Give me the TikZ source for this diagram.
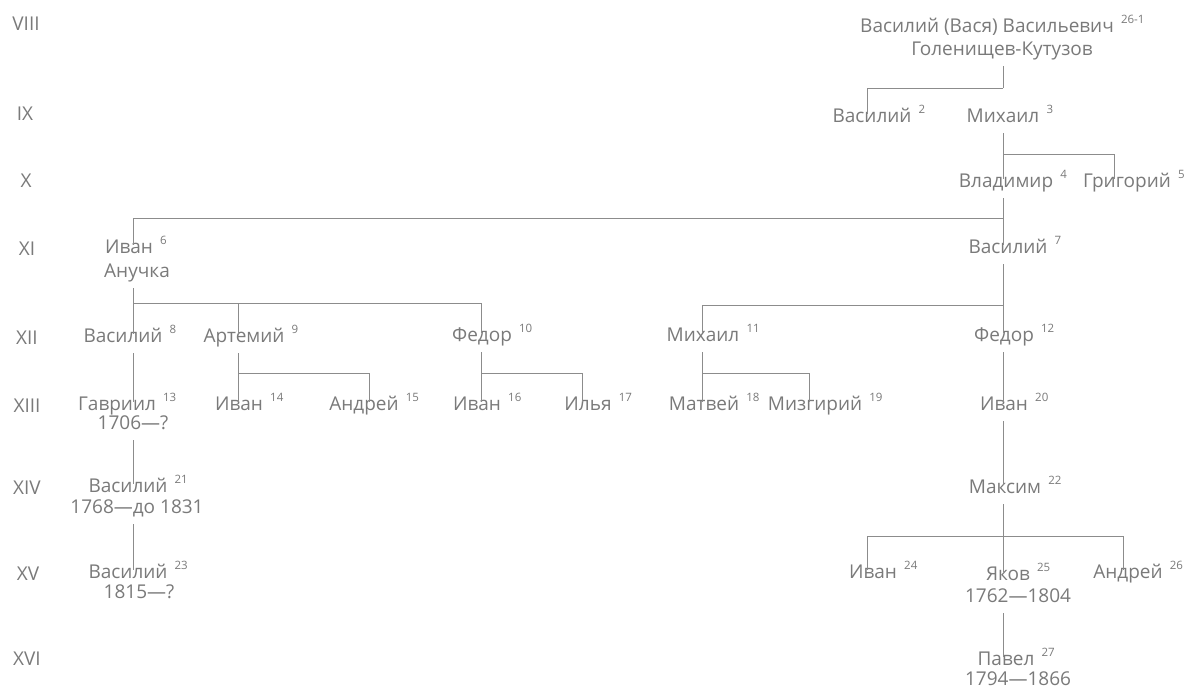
\documentclass[tikz,border=0pt]{standalone}
\usepackage{fontspec}
\setmainfont{Open Sans}
\definecolor{txt}{HTML}{7A7A7A}
\definecolor{ln}{HTML}{8C8C8C}
\newcommand\sn[1]{\rlap{\hspace{0.38em}\raisebox{0.48em}{\fontsize{11.5}{11.5}\selectfont #1}}}
\begin{document}
\begin{tikzpicture}[x=1pt,y=-1pt,
  person/.style={text=txt, font=\fontsize{19}{21}\selectfont, inner sep=0pt, anchor=base, yshift=-5.2pt, text height=0.75em, text depth=0.22em},
  gen/.style={person, yshift=-2pt},
  link/.style={draw=ln, line width=0.8pt},
  tout/.style={shorten <=8.5pt},
  tin/.style={shorten >=0.5pt}]
\fill[white] (0,0) rectangle (1188,688);
\useasboundingbox (0,0) rectangle (1188,688);
% generations
\node[gen] (g8) at (26,23) {VIII};
\node[gen] (g9) at (25,113) {IX};
\node[gen] (g10) at (26,180) {X};
\node[gen] (g11) at (27,248) {XI};
\node[gen] (g12) at (27,337) {XII};
\node[gen] (g13) at (27,405) {XIII};
\node[gen] (g14) at (27,487) {XIV};
\node[gen] (g15) at (28,573) {XV};
\node[gen] (g16) at (27,658) {XVI};
% persons
\node[person] (root1) at (987,27) {Василий (Вася) Васильевич\sn{26-1}};
\node[person] (root2) at (1002,50) {Голенищев-Кутузов};
\node[person] (p2) at (872,117) {Василий\sn{2}};
\node[person] (p3) at (1003,117) {Михаил\sn{3}};
\node[person] (p4) at (1006,182) {Владимир\sn{4}};
\node[person] (p5) at (1127,182) {Григорий\sn{5}};
\node[person] (p6) at (129,248) {Иван\sn{6}};
\node[person] (p6b) at (137,272) {Анучка};
\node[person] (p7) at (1008,248) {Василий\sn{7}};
\node[person] (p8) at (123,337) {Василий\sn{8}};
\node[person] (p9) at (244,337) {Артемий\sn{9}};
\node[person] (p10) at (482,336) {Федор\sn{10}};
\node[person] (p11) at (703,336) {Михаил\sn{11}};
\node[person] (p12) at (1004,336) {Федор\sn{12}};
\node[person] (p13) at (117,405) {Гавриил\sn{13}};
\node[person] (p13d) at (133,424) {1706—?};
\node[person] (p14) at (239,405) {Иван\sn{14}};
\node[person] (p15) at (364,405) {Андрей\sn{15}};
\node[person] (p16) at (477,405) {Иван\sn{16}};
\node[person] (p17) at (588,405) {Илья\sn{17}};
\node[person] (p18) at (704,405) {Матвей\sn{18}};
\node[person] (p19) at (815,405) {Мизгирий\sn{19}};
\node[person] (p20) at (1004,405) {Иван\sn{20}};
\node[person] (p21) at (128,487) {Василий\sn{21}};
\node[person] (p21d) at (137,508) {1768—до 1831};
\node[person] (p22) at (1005,488) {Максим\sn{22}};
\node[person] (p23) at (128,573) {Василий\sn{23}};
\node[person] (p23d) at (139,593) {1815—?};
\node[person] (p24) at (873,573) {Иван\sn{24}};
\node[person] (p25) at (1008,575) {Яков\sn{25}};
\node[person] (p25d) at (1018,597) {1762—1804};
\node[person] (p26) at (1128,573) {Андрей\sn{26}};
\node[person] (p27) at (1006,660) {Павел\sn{27}};
\node[person] (p27d) at (1018,680) {1794—1866};
% bar coordinates
\coordinate (b1L) at (867,88);  \coordinate (b1R) at (1003,88);
\coordinate (b2L) at (1003,154); \coordinate (b2R) at (1114,154);
\coordinate (b3L) at (133,218);  \coordinate (b3R) at (1003,218);
\coordinate (b4A) at (133,303);  \coordinate (b4B) at (238,303); \coordinate (b4C) at (481,303);
\coordinate (b5L) at (702,305);  \coordinate (b5R) at (1003,305);
\coordinate (b7L) at (238,373);  \coordinate (b7R) at (369,373);
\coordinate (b8L) at (481,373);  \coordinate (b8R) at (582,373);
\coordinate (b9L) at (702,373);  \coordinate (b9R) at (809,373);
\coordinate (b14L) at (867,536); \coordinate (b14M) at (1003,536); \coordinate (b14R) at (1123,536);
% connectors
\draw[link,tout] (root2.south -| b1R) -- (b1R);
\draw[link,tin] (b1R) -- (b1L) -- (p2.north -| b1L);
\draw[link,tout,tin] (p3.south -| b2L) -- (p4.north -| b2L);
\draw[link,tin] (b2L) -- (b2R) -- (p5.north -| b2R);
\draw[link,tout,tin] (p4.south -| b3R) -- (p7.north -| b3R);
\draw[link,tin] (b3R) -- (b3L) -- (p6.north -| b3L);
\draw[link,tout,tin] (p6b.south -| b4A) -- (p8.north -| b4A);
\draw[link,tin] (b4A) -- (b4C) -- (p10.north -| b4C);
\draw[link,tin] (b4B) -- (p9.north -| b4B);
\draw[link,tout,tin] (p7.south -| b5R) -- (p12.north -| b5R);
\draw[link,tin] (b5R) -- (b5L) -- (p11.north -| b5L);
\draw[link,tout,tin] (p8.south -| b4A) -- (p13.north -| b4A);
\draw[link,tout,tin] (p9.south -| b7L) -- (p14.north -| b7L);
\draw[link,tin] (b7L) -- (b7R) -- (p15.north -| b7R);
\draw[link,tout,tin] (p10.south -| b8L) -- (p16.north -| b8L);
\draw[link,tin] (b8L) -- (b8R) -- (p17.north -| b8R);
\draw[link,tout,tin] (p11.south -| b9L) -- (p18.north -| b9L);
\draw[link,tin] (b9L) -- (b9R) -- (p19.north -| b9R);
\draw[link,tout,tin] (p12.south -| b5R) -- (p20.north -| b5R);
\draw[link,tout,tin] (p13d.south -| b4A) -- (p21.north -| b4A);
\draw[link,tout,tin] (p20.south -| b5R) -- (p22.north -| b5R);
\draw[link,tout,tin] (p21d.south -| b4A) -- (p23.north -| b4A);
\draw[link,tout,tin] (p22.south -| b14M) -- (p25.north -| b14M);
\draw[link,tin] (b14L) -- (b14R) -- (p26.north -| b14R);
\draw[link,tin] (b14L) -- (p24.north -| b14L);
\draw[link,tout,tin] (p25d.south -| b14M) -- (p27.north -| b14M);
\end{tikzpicture}
\end{document}
